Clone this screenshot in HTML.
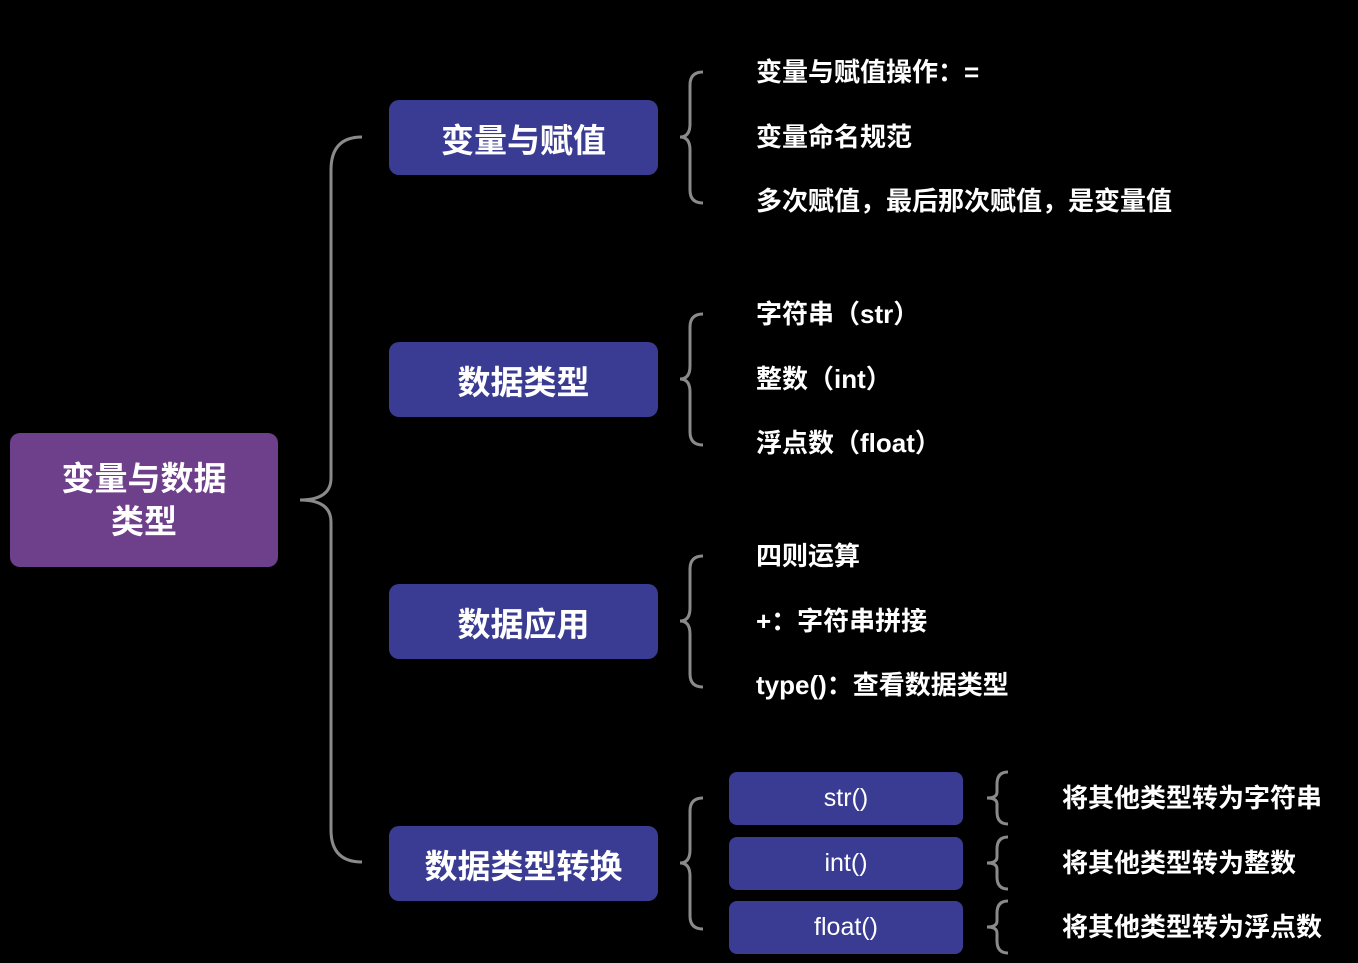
<!DOCTYPE html>
<html><head><meta charset="utf-8"><style>
body{margin:0;background:#000;width:1358px;height:963px;overflow:hidden;position:relative;font-family:"Liberation Sans","Noto Sans CJK SC",sans-serif;}
.b{position:absolute;background:#3a3c93;border-radius:10px;color:#fff;display:flex;align-items:center;justify-content:center;font-weight:600;}
.l1{left:389px;width:269px;height:75px;font-size:33px;}
.s{left:729px;width:234px;height:53px;font-size:25px;border-radius:8px;font-weight:normal;}
.t{position:absolute;color:#fff;font-size:26px;line-height:30px;white-space:nowrap;font-weight:600;}
</style></head><body>
<svg width="1358" height="963" style="position:absolute;left:0;top:0" fill="none" stroke="#8a8a8a" stroke-width="3">
<path d="M362 137 Q331 137 331 170 L331 478 Q331 500 300 500 Q331 500 331 522 L331 830 Q331 862 362 862"/>
<g id="br">
<path d="M703 72 Q690 72 690 85 L690 124 Q690 137 680 137 Q690 137 690 150 L690 190 Q690 203 703 203"/>
</g>
<use href="#br" transform="translate(0,242)"/>
<use href="#br" transform="translate(0,484)"/>
<use href="#br" transform="translate(0,726)"/>
<g id="sb"><path d="M1008 772 Q997 772 997 784 L997 792 Q997 798 987 798 Q997 798 997 804 L997 812 Q997 824 1008 824"/></g>
<use href="#sb" transform="translate(0,65)"/>
<use href="#sb" transform="translate(0,129)"/>
</svg>
<div class="b" style="left:10px;top:433px;width:268px;height:134px;background:#6e3f8a;font-size:33px;text-align:center;line-height:43px;">变量与数据<br>类型</div>
<div class="b l1" style="top:100px">变量与赋值</div>
<div class="b l1" style="top:342px">数据类型</div>
<div class="b l1" style="top:584px">数据应用</div>
<div class="b l1" style="top:826px">数据类型转换</div>
<div class="b s" style="top:772px">str()</div>
<div class="b s" style="top:837px">int()</div>
<div class="b s" style="top:901px">float()</div>
<div class="t" style="left:756px;top:57px">变量与赋值操作：=</div>
<div class="t" style="left:756px;top:122px">变量命名规范</div>
<div class="t" style="left:756px;top:186px">多次赋值，最后那次赋值，是变量值</div>
<div class="t" style="left:756px;top:299px">字符串（str）</div>
<div class="t" style="left:756px;top:364px">整数（int）</div>
<div class="t" style="left:756px;top:428px">浮点数（float）</div>
<div class="t" style="left:756px;top:541px">四则运算</div>
<div class="t" style="left:756px;top:606px">+：字符串拼接</div>
<div class="t" style="left:756px;top:670px">type()：查看数据类型</div>
<div class="t" style="left:1062px;top:783px">将其他类型转为字符串</div>
<div class="t" style="left:1062px;top:848px">将其他类型转为整数</div>
<div class="t" style="left:1062px;top:912px">将其他类型转为浮点数</div>
</body></html>
